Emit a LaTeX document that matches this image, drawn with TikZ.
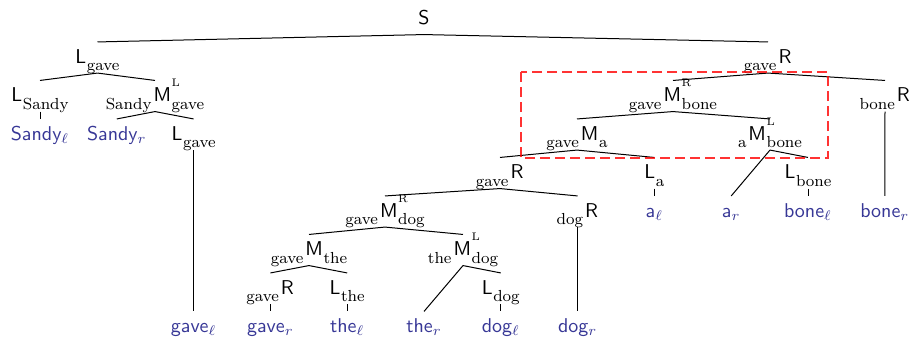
\documentclass[tikz,border=0pt]{standalone}
\usepackage{amsmath}
\definecolor{leafblue}{RGB}{55,55,150}
\newcommand{\subfnt}{\rmfamily\fontsize{8}{9}\selectfont}
\newcommand{\supfnt}{\rmfamily\fontsize{5.5}{6}\selectfont}
\newcommand{\lsub}[1]{\lower3.8pt\hbox{\subfnt #1}}
\newcommand{\lsup}[1]{\rlap{\raise7.3pt\hbox{\supfnt #1}}}
% \lab{pre}{main}{sup}{sub}
\newcommand{\lab}[4]{\ifx\relax#1\relax\else\lsub{#1}\kern1pt\fi #2\kern0.3pt\ifx\relax#3\relax\else\lsup{#3}\fi\ifx\relax#4\relax\else\lsub{#4}\fi}
\begin{document}
\begin{tikzpicture}[x=0.5pt,y=-0.5pt,
  tn/.style={anchor=base,inner sep=3.33pt,text height=7pt,text depth=1.5pt,font=\sffamily},
  leaf/.style={tn,text=leafblue},
  br/.style={line width=0.5pt},
  hilite/.style={draw=red,draw opacity=0.8,dash pattern=on 5pt off 2.5pt,line width=0.6pt}]
\useasboundingbox (0,0) rectangle (912,339);
% internal nodes
\node[tn] (S) at (424,24.5) {S};
\node[tn] (Lg) at (97.5,63) {\lab{}{L}{}{gave}};
\node[tn] (Rt) at (768,63) {\lab{gave}{R}{}{}};
\node[tn] (Ls) at (40,101.5) {\lab{}{L}{}{Sandy}};
\node[tn] (MLg) at (155,101.5) {\lab{Sandy}{M}{L}{gave}};
\node[tn] (MRb) at (673,101.5) {\lab{gave}{M}{R}{bone}};
\node[tn] (Rb) at (885,101.5) {\lab{bone}{R}{}{}};
\node[tn] (Lg2) at (193.6,140) {\lab{}{L}{}{gave}};
\node[tn] (Ma) at (577,140) {\lab{gave}{M}{}{a}};
\node[tn] (MLb) at (770,140) {\lab{a}{M}{L}{bone}};
\node[tn] (Rm) at (500,178.5) {\lab{gave}{R}{}{}};
\node[tn] (La) at (654.4,178.5) {\lab{}{L}{}{a}};
\node[tn] (Lb) at (808,178.5) {\lab{}{L}{}{bone}};
\node[tn] (MRd) at (385,217) {\lab{gave}{M}{R}{dog}};
\node[tn] (Rd) at (577.6,217) {\lab{dog}{R}{}{}};
\node[tn] (Mt) at (309,255.5) {\lab{gave}{M}{}{the}};
\node[tn] (MLd) at (463,255.5) {\lab{the}{M}{L}{dog}};
\node[tn] (Rl) at (270.4,294) {\lab{gave}{R}{}{}};
\node[tn] (Lt) at (347.2,294) {\lab{}{L}{}{the}};
\node[tn] (Ld) at (500.8,294) {\lab{}{L}{}{dog}};
% leaves
\node[leaf] (sl) at (40,140) {Sandy$_\ell$};
\node[leaf] (sr) at (116.8,140) {Sandy$_r$};
\node[leaf] (al) at (654.4,217) {a$_\ell$};
\node[leaf] (ar) at (731.2,217) {a$_r$};
\node[leaf] (bl) at (808,217) {bone$_\ell$};
\node[leaf] (bR) at (884.8,217) {bone$_r$};
\node[leaf] (gl) at (193.6,332.5) {gave$_\ell$};
\node[leaf] (gr) at (270.4,332.5) {gave$_r$};
\node[leaf] (tl) at (347.2,332.5) {the$_\ell$};
\node[leaf] (tr) at (424,332.5) {the$_r$};
\node[leaf] (dl) at (500.8,332.5) {dog$_\ell$};
\node[leaf] (dr) at (577.6,332.5) {dog$_r$};
% edges
\draw[br] (S.south) -- (Lg.north);
\draw[br] (S.south) -- (Rt.north);
\draw[br] (Lg.south) -- (Ls.north);
\draw[br] (Lg.south) -- (MLg.north);
\draw[br] (Ls.south) -- (sl.north);
\draw[br] (MLg.south) -- (sr.north);
\draw[br] (MLg.south) -- (Lg2.north);
\draw[br] (Lg2.south) -- (gl.north);
\draw[br] (Rt.south) -- (MRb.north);
\draw[br] (Rt.south) -- (Rb.north);
\draw[br] (Rb.south) -- (bR.north);
\draw[br] (MRb.south) -- (Ma.north);
\draw[br] (MRb.south) -- (MLb.north);
\draw[br] (Ma.south) -- (Rm.north);
\draw[br] (Ma.south) -- (La.north);
\draw[br] (La.south) -- (al.north);
\draw[br] (MLb.south) -- (ar.north);
\draw[br] (MLb.south) -- (Lb.north);
\draw[br] (Lb.south) -- (bl.north);
\draw[br] (Rm.south) -- (MRd.north);
\draw[br] (Rm.south) -- (Rd.north);
\draw[br] (Rd.south) -- (dr.north);
\draw[br] (MRd.south) -- (Mt.north);
\draw[br] (MRd.south) -- (MLd.north);
\draw[br] (Mt.south) -- (Rl.north);
\draw[br] (Mt.south) -- (Lt.north);
\draw[br] (Rl.south) -- (gr.north);
\draw[br] (Lt.south) -- (tl.north);
\draw[br] (MLd.south) -- (tr.north);
\draw[br] (MLd.south) -- (Ld.north);
\draw[br] (Ld.south) -- (dl.north);
% highlight box
\draw[hilite] (521,72) rectangle (828,158);
\end{tikzpicture}
\end{document}
